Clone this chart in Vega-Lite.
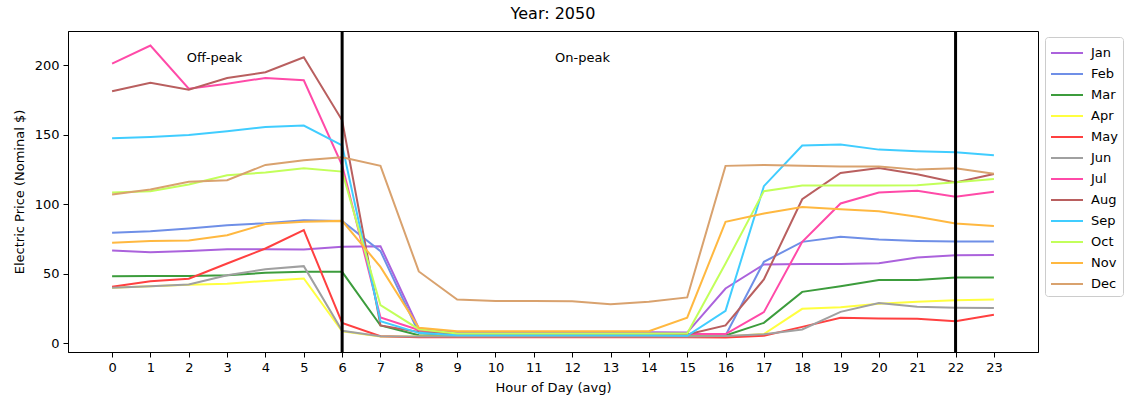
{
  "$schema": "https://vega.github.io/schema/vega-lite/v6.json",
  "width": 970,
  "height": 321,
  "autosize": {"type": "none"},
  "padding": {"left": 68, "top": 31, "right": 86, "bottom": 50},
  "background": "white",
  "title": {"text": "Year: 2050", "font": "DejaVu Sans", "fontSize": 16, "fontWeight": "normal", "color": "black", "offset": 8},
  "config": {
    "font": "DejaVu Sans",
    "view": {"stroke": "black", "strokeWidth": 1},
    "axis": {"grid": false, "labelFont": "DejaVu Sans", "labelFontSize": 13, "labelColor": "black", "titleFont": "DejaVu Sans", "titleFontSize": 13, "titleFontWeight": "normal", "titleColor": "black", "tickColor": "black", "domainColor": "black", "tickSize": 5, "labelPadding": 4}
  },
  "datasets": {
    "prices": [
      {"month":"Jan","hour":0,"price":66.7},{"month":"Jan","hour":1,"price":65.5},{"month":"Jan","hour":2,"price":66.4},{"month":"Jan","hour":3,"price":67.6},{"month":"Jan","hour":4,"price":67.6},{"month":"Jan","hour":5,"price":67.4},{"month":"Jan","hour":6,"price":69.3},{"month":"Jan","hour":7,"price":69.8},{"month":"Jan","hour":8,"price":10.5},{"month":"Jan","hour":9,"price":7.9},{"month":"Jan","hour":10,"price":7.9},{"month":"Jan","hour":11,"price":7.9},{"month":"Jan","hour":12,"price":7.9},{"month":"Jan","hour":13,"price":7.9},{"month":"Jan","hour":14,"price":7.9},{"month":"Jan","hour":15,"price":7.6},{"month":"Jan","hour":16,"price":39.3},{"month":"Jan","hour":17,"price":56.6},{"month":"Jan","hour":18,"price":57},{"month":"Jan","hour":19,"price":57},{"month":"Jan","hour":20,"price":57.5},{"month":"Jan","hour":21,"price":61.6},{"month":"Jan","hour":22,"price":63.3},{"month":"Jan","hour":23,"price":63.5},
      {"month":"Feb","hour":0,"price":79.4},{"month":"Feb","hour":1,"price":80.6},{"month":"Feb","hour":2,"price":82.5},{"month":"Feb","hour":3,"price":84.9},{"month":"Feb","hour":4,"price":86.3},{"month":"Feb","hour":5,"price":88.5},{"month":"Feb","hour":6,"price":88},{"month":"Feb","hour":7,"price":66.2},{"month":"Feb","hour":8,"price":7.4},{"month":"Feb","hour":9,"price":5.7},{"month":"Feb","hour":10,"price":5.7},{"month":"Feb","hour":11,"price":5.7},{"month":"Feb","hour":12,"price":5.7},{"month":"Feb","hour":13,"price":5.7},{"month":"Feb","hour":14,"price":5.7},{"month":"Feb","hour":15,"price":5.7},{"month":"Feb","hour":16,"price":5.5},{"month":"Feb","hour":17,"price":58.5},{"month":"Feb","hour":18,"price":72.9},{"month":"Feb","hour":19,"price":76.5},{"month":"Feb","hour":20,"price":74.6},{"month":"Feb","hour":21,"price":73.6},{"month":"Feb","hour":22,"price":73.2},{"month":"Feb","hour":23,"price":73.2},
      {"month":"Mar","hour":0,"price":48.2},{"month":"Mar","hour":1,"price":48.4},{"month":"Mar","hour":2,"price":48.4},{"month":"Mar","hour":3,"price":48.9},{"month":"Mar","hour":4,"price":50.6},{"month":"Mar","hour":5,"price":51.3},{"month":"Mar","hour":6,"price":51.3},{"month":"Mar","hour":7,"price":12.7},{"month":"Mar","hour":8,"price":5.7},{"month":"Mar","hour":9,"price":5.3},{"month":"Mar","hour":10,"price":5.3},{"month":"Mar","hour":11,"price":5.3},{"month":"Mar","hour":12,"price":5.3},{"month":"Mar","hour":13,"price":5.3},{"month":"Mar","hour":14,"price":5.3},{"month":"Mar","hour":15,"price":5.3},{"month":"Mar","hour":16,"price":5.5},{"month":"Mar","hour":17,"price":14.6},{"month":"Mar","hour":18,"price":36.9},{"month":"Mar","hour":19,"price":41},{"month":"Mar","hour":20,"price":45.5},{"month":"Mar","hour":21,"price":45.5},{"month":"Mar","hour":22,"price":47.2},{"month":"Mar","hour":23,"price":47.2},
      {"month":"Apr","hour":0,"price":39.8},{"month":"Apr","hour":1,"price":41},{"month":"Apr","hour":2,"price":42},{"month":"Apr","hour":3,"price":42.7},{"month":"Apr","hour":4,"price":44.8},{"month":"Apr","hour":5,"price":46.5},{"month":"Apr","hour":6,"price":8.5},{"month":"Apr","hour":7,"price":4.7},{"month":"Apr","hour":8,"price":4.7},{"month":"Apr","hour":9,"price":4.7},{"month":"Apr","hour":10,"price":4.7},{"month":"Apr","hour":11,"price":4.7},{"month":"Apr","hour":12,"price":4.7},{"month":"Apr","hour":13,"price":4.7},{"month":"Apr","hour":14,"price":4.7},{"month":"Apr","hour":15,"price":4.7},{"month":"Apr","hour":16,"price":4.8},{"month":"Apr","hour":17,"price":6.5},{"month":"Apr","hour":18,"price":24.7},{"month":"Apr","hour":19,"price":25.9},{"month":"Apr","hour":20,"price":28.3},{"month":"Apr","hour":21,"price":29.7},{"month":"Apr","hour":22,"price":30.9},{"month":"Apr","hour":23,"price":31.4},
      {"month":"May","hour":0,"price":40.5},{"month":"May","hour":1,"price":44.6},{"month":"May","hour":2,"price":46.3},{"month":"May","hour":3,"price":57.3},{"month":"May","hour":4,"price":68.1},{"month":"May","hour":5,"price":81.3},{"month":"May","hour":6,"price":14.6},{"month":"May","hour":7,"price":5},{"month":"May","hour":8,"price":4.3},{"month":"May","hour":9,"price":4.3},{"month":"May","hour":10,"price":4.3},{"month":"May","hour":11,"price":4.3},{"month":"May","hour":12,"price":4.3},{"month":"May","hour":13,"price":4.3},{"month":"May","hour":14,"price":4.3},{"month":"May","hour":15,"price":4.2},{"month":"May","hour":16,"price":4.1},{"month":"May","hour":17,"price":5.3},{"month":"May","hour":18,"price":11.7},{"month":"May","hour":19,"price":18.2},{"month":"May","hour":20,"price":17.7},{"month":"May","hour":21,"price":17.5},{"month":"May","hour":22,"price":15.8},{"month":"May","hour":23,"price":20.4},
      {"month":"Jun","hour":0,"price":39.8},{"month":"Jun","hour":1,"price":41},{"month":"Jun","hour":2,"price":42.2},{"month":"Jun","hour":3,"price":48.9},{"month":"Jun","hour":4,"price":53.2},{"month":"Jun","hour":5,"price":55.4},{"month":"Jun","hour":6,"price":8.9},{"month":"Jun","hour":7,"price":5},{"month":"Jun","hour":8,"price":4.7},{"month":"Jun","hour":9,"price":4.7},{"month":"Jun","hour":10,"price":4.7},{"month":"Jun","hour":11,"price":4.7},{"month":"Jun","hour":12,"price":4.7},{"month":"Jun","hour":13,"price":4.7},{"month":"Jun","hour":14,"price":4.7},{"month":"Jun","hour":15,"price":4.7},{"month":"Jun","hour":16,"price":5.2},{"month":"Jun","hour":17,"price":6.3},{"month":"Jun","hour":18,"price":9.8},{"month":"Jun","hour":19,"price":22.5},{"month":"Jun","hour":20,"price":28.8},{"month":"Jun","hour":21,"price":26.1},{"month":"Jun","hour":22,"price":25.4},{"month":"Jun","hour":23,"price":25.2},
      {"month":"Jul","hour":0,"price":201.2},{"month":"Jul","hour":1,"price":214.2},{"month":"Jul","hour":2,"price":183.2},{"month":"Jul","hour":3,"price":186.8},{"month":"Jul","hour":4,"price":190.9},{"month":"Jul","hour":5,"price":189.2},{"month":"Jul","hour":6,"price":128},{"month":"Jul","hour":7,"price":18.5},{"month":"Jul","hour":8,"price":9.4},{"month":"Jul","hour":9,"price":6.5},{"month":"Jul","hour":10,"price":6.5},{"month":"Jul","hour":11,"price":6.5},{"month":"Jul","hour":12,"price":6.5},{"month":"Jul","hour":13,"price":6.5},{"month":"Jul","hour":14,"price":6.5},{"month":"Jul","hour":15,"price":6.5},{"month":"Jul","hour":16,"price":6.5},{"month":"Jul","hour":17,"price":22.3},{"month":"Jul","hour":18,"price":72.9},{"month":"Jul","hour":19,"price":100.5},{"month":"Jul","hour":20,"price":108.4},{"month":"Jul","hour":21,"price":109.6},{"month":"Jul","hour":22,"price":105.3},{"month":"Jul","hour":23,"price":108.9},
      {"month":"Aug","hour":0,"price":181.3},{"month":"Aug","hour":1,"price":187.5},{"month":"Aug","hour":2,"price":182.5},{"month":"Aug","hour":3,"price":190.9},{"month":"Aug","hour":4,"price":195},{"month":"Aug","hour":5,"price":205.8},{"month":"Aug","hour":6,"price":160.4},{"month":"Aug","hour":7,"price":12.7},{"month":"Aug","hour":8,"price":8},{"month":"Aug","hour":9,"price":6.2},{"month":"Aug","hour":10,"price":6.2},{"month":"Aug","hour":11,"price":6.2},{"month":"Aug","hour":12,"price":6.2},{"month":"Aug","hour":13,"price":6.2},{"month":"Aug","hour":14,"price":6.2},{"month":"Aug","hour":15,"price":6.2},{"month":"Aug","hour":16,"price":12.7},{"month":"Aug","hour":17,"price":45.8},{"month":"Aug","hour":18,"price":103.6},{"month":"Aug","hour":19,"price":122.5},{"month":"Aug","hour":20,"price":126.1},{"month":"Aug","hour":21,"price":121.6},{"month":"Aug","hour":22,"price":115.6},{"month":"Aug","hour":23,"price":121.8},
      {"month":"Sep","hour":0,"price":147.5},{"month":"Sep","hour":1,"price":148.4},{"month":"Sep","hour":2,"price":149.9},{"month":"Sep","hour":3,"price":152.5},{"month":"Sep","hour":4,"price":155.6},{"month":"Sep","hour":5,"price":156.6},{"month":"Sep","hour":6,"price":142.4},{"month":"Sep","hour":7,"price":15.8},{"month":"Sep","hour":8,"price":7.4},{"month":"Sep","hour":9,"price":5.7},{"month":"Sep","hour":10,"price":5.7},{"month":"Sep","hour":11,"price":5.7},{"month":"Sep","hour":12,"price":5.7},{"month":"Sep","hour":13,"price":5.7},{"month":"Sep","hour":14,"price":5.7},{"month":"Sep","hour":15,"price":5.3},{"month":"Sep","hour":16,"price":23.3},{"month":"Sep","hour":17,"price":113},{"month":"Sep","hour":18,"price":142.2},{"month":"Sep","hour":19,"price":142.9},{"month":"Sep","hour":20,"price":139.3},{"month":"Sep","hour":21,"price":138.1},{"month":"Sep","hour":22,"price":137.4},{"month":"Sep","hour":23,"price":135.3},
      {"month":"Oct","hour":0,"price":108.4},{"month":"Oct","hour":1,"price":109.4},{"month":"Oct","hour":2,"price":114.2},{"month":"Oct","hour":3,"price":120.9},{"month":"Oct","hour":4,"price":122.8},{"month":"Oct","hour":5,"price":125.9},{"month":"Oct","hour":6,"price":123.5},{"month":"Oct","hour":7,"price":27.3},{"month":"Oct","hour":8,"price":10},{"month":"Oct","hour":9,"price":7},{"month":"Oct","hour":10,"price":7},{"month":"Oct","hour":11,"price":7},{"month":"Oct","hour":12,"price":7},{"month":"Oct","hour":13,"price":7},{"month":"Oct","hour":14,"price":7},{"month":"Oct","hour":15,"price":7},{"month":"Oct","hour":16,"price":57.3},{"month":"Oct","hour":17,"price":109.4},{"month":"Oct","hour":18,"price":113.4},{"month":"Oct","hour":19,"price":113.4},{"month":"Oct","hour":20,"price":113.4},{"month":"Oct","hour":21,"price":113.6},{"month":"Oct","hour":22,"price":115.8},{"month":"Oct","hour":23,"price":118.2},
      {"month":"Nov","hour":0,"price":72.2},{"month":"Nov","hour":1,"price":73.6},{"month":"Nov","hour":2,"price":73.9},{"month":"Nov","hour":3,"price":77.7},{"month":"Nov","hour":4,"price":85.8},{"month":"Nov","hour":5,"price":87.3},{"month":"Nov","hour":6,"price":88},{"month":"Nov","hour":7,"price":54.9},{"month":"Nov","hour":8,"price":11},{"month":"Nov","hour":9,"price":8.6},{"month":"Nov","hour":10,"price":8.6},{"month":"Nov","hour":11,"price":8.6},{"month":"Nov","hour":12,"price":8.6},{"month":"Nov","hour":13,"price":8.6},{"month":"Nov","hour":14,"price":8.6},{"month":"Nov","hour":15,"price":18.3},{"month":"Nov","hour":16,"price":87.3},{"month":"Nov","hour":17,"price":93.3},{"month":"Nov","hour":18,"price":98},{"month":"Nov","hour":19,"price":96.4},{"month":"Nov","hour":20,"price":95},{"month":"Nov","hour":21,"price":90.9},{"month":"Nov","hour":22,"price":86.1},{"month":"Nov","hour":23,"price":84.4},
      {"month":"Dec","hour":0,"price":107},{"month":"Dec","hour":1,"price":110.6},{"month":"Dec","hour":2,"price":116.1},{"month":"Dec","hour":3,"price":117.3},{"month":"Dec","hour":4,"price":128.3},{"month":"Dec","hour":5,"price":131.7},{"month":"Dec","hour":6,"price":133.8},{"month":"Dec","hour":7,"price":127.6},{"month":"Dec","hour":8,"price":51.6},{"month":"Dec","hour":9,"price":31.4},{"month":"Dec","hour":10,"price":30.3},{"month":"Dec","hour":11,"price":30.3},{"month":"Dec","hour":12,"price":30.2},{"month":"Dec","hour":13,"price":28},{"month":"Dec","hour":14,"price":29.7},{"month":"Dec","hour":15,"price":32.9},{"month":"Dec","hour":16,"price":127.6},{"month":"Dec","hour":17,"price":128.3},{"month":"Dec","hour":18,"price":127.6},{"month":"Dec","hour":19,"price":127.1},{"month":"Dec","hour":20,"price":127.1},{"month":"Dec","hour":21,"price":124.9},{"month":"Dec","hour":22,"price":125.9},{"month":"Dec","hour":23,"price":122}
    ],
    "bounds": [{"hour": 6}, {"hour": 22}],
    "labels": [{"hour": 2.67, "price": 205, "label": "Off-peak"}, {"hour": 12.27, "price": 205, "label": "On-peak"}]
  },
  "layer": [
    {
      "data": {"name": "prices"},
      "mark": {"type": "line", "strokeWidth": 2},
      "encoding": {
        "x": {"field": "hour", "type": "quantitative", "scale": {"domain": [-1.15, 24.15], "nice": false, "zero": false}, "axis": {"values": [0,1,2,3,4,5,6,7,8,9,10,11,12,13,14,15,16,17,18,19,20,21,22,23], "title": "Hour of Day (avg)", "titlePadding": 7}},
        "y": {"field": "price", "type": "quantitative", "scale": {"domain": [-6.4, 224.7], "nice": false, "zero": false}, "axis": {"values": [0, 50, 100, 150, 200], "title": "Electric Price (Nominal $)", "titlePadding": 8}},
        "color": {
          "field": "month", "type": "nominal",
          "scale": {"domain": ["Jan","Feb","Mar","Apr","May","Jun","Jul","Aug","Sep","Oct","Nov","Dec"],
                    "range": ["#ab62dc","#6f8fe7","#3c9c3c","#ffff40","#ff4040","#a0a0a0","#ff4aa8","#b95f5f","#40cdff","#c2ff5a","#ffb840","#d9a26e"]},
          "legend": {"title": null, "orient": "none", "legendX": 977, "legendY": 6, "symbolType": "M-1.6,0L1.6,0", "symbolSize": 400, "symbolStrokeWidth": 2, "symbolOffset": 6, "labelFontSize": 13, "labelFont": "DejaVu Sans", "labelColor": "black", "labelOffset": 13, "rowPadding": 3, "padding": 5, "strokeColor": "#cccccc", "fillColor": "white", "cornerRadius": 3}
        },
        "order": {"field": "hour", "type": "quantitative"}
      }
    },
    {
      "data": {"name": "bounds"},
      "mark": {"type": "rule", "color": "black", "strokeWidth": 3},
      "encoding": {"x": {"field": "hour", "type": "quantitative"}}
    },
    {
      "data": {"name": "labels"},
      "mark": {"type": "text", "font": "DejaVu Sans", "fontSize": 13, "color": "black", "align": "center", "baseline": "middle"},
      "encoding": {"x": {"field": "hour", "type": "quantitative"}, "y": {"field": "price", "type": "quantitative"}, "text": {"field": "label"}}
    }
  ]
}
